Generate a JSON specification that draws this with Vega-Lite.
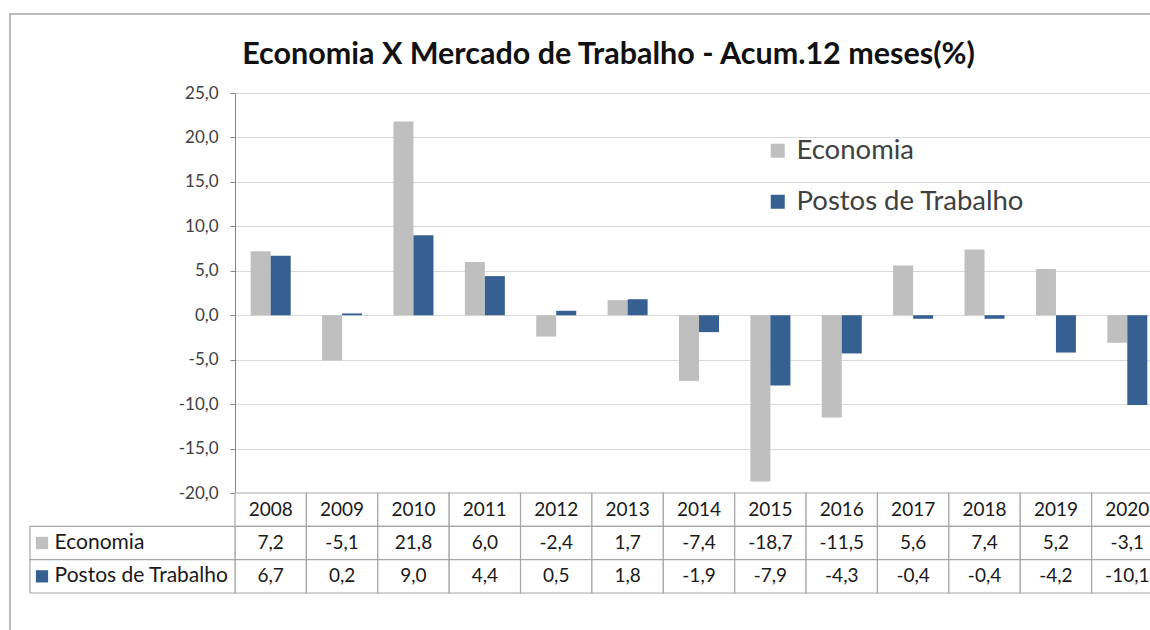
{
  "$schema": "https://vega.github.io/schema/vega-lite/v6.json",
  "usermeta": {"embedOptions": {"actions": false}},
  "width": 1145,
  "height": 621,
  "autosize": {"type": "none"},
  "padding": {"left": 10, "top": 14, "right": -5, "bottom": -5},
  "background": "white",
  "title": {
    "text": "Economia X Mercado de Trabalho - Acum.12 meses(%)",
    "font": "Lato", "fontSize": 30.5, "fontWeight": "bold", "color": "#111111",
    "anchor": "middle", "frame": "group", "dx": 26, "dy": 56, "offset": 0
  },
  "config": {
    "font": "Lato",
    "view": {"stroke": "#a6a6a6", "strokeWidth": 1.5},
    "locale": {"number": {"decimal": ",", "thousands": ".", "grouping": [3], "currency": ["R$", ""], "minus": "-"}}
  },
  "data": {
    "values": [
      {"ano": "2008", "serie": "Economia", "valor": 7.2},
      {"ano": "2008", "serie": "Postos de Trabalho", "valor": 6.7},
      {"ano": "2009", "serie": "Economia", "valor": -5.1},
      {"ano": "2009", "serie": "Postos de Trabalho", "valor": 0.2},
      {"ano": "2010", "serie": "Economia", "valor": 21.8},
      {"ano": "2010", "serie": "Postos de Trabalho", "valor": 9.0},
      {"ano": "2011", "serie": "Economia", "valor": 6.0},
      {"ano": "2011", "serie": "Postos de Trabalho", "valor": 4.4},
      {"ano": "2012", "serie": "Economia", "valor": -2.4},
      {"ano": "2012", "serie": "Postos de Trabalho", "valor": 0.5},
      {"ano": "2013", "serie": "Economia", "valor": 1.7},
      {"ano": "2013", "serie": "Postos de Trabalho", "valor": 1.8},
      {"ano": "2014", "serie": "Economia", "valor": -7.4},
      {"ano": "2014", "serie": "Postos de Trabalho", "valor": -1.9},
      {"ano": "2015", "serie": "Economia", "valor": -18.7},
      {"ano": "2015", "serie": "Postos de Trabalho", "valor": -7.9},
      {"ano": "2016", "serie": "Economia", "valor": -11.5},
      {"ano": "2016", "serie": "Postos de Trabalho", "valor": -4.3},
      {"ano": "2017", "serie": "Economia", "valor": 5.6},
      {"ano": "2017", "serie": "Postos de Trabalho", "valor": -0.4},
      {"ano": "2018", "serie": "Economia", "valor": 7.4},
      {"ano": "2018", "serie": "Postos de Trabalho", "valor": -0.4},
      {"ano": "2019", "serie": "Economia", "valor": 5.2},
      {"ano": "2019", "serie": "Postos de Trabalho", "valor": -4.2},
      {"ano": "2020", "serie": "Economia", "valor": -3.1},
      {"ano": "2020", "serie": "Postos de Trabalho", "valor": -10.1}
    ]
  },
  "resolve": {"scale": {"x": "independent", "y": "independent"}},
  "layer": [
    {
      "mark": {"type": "bar"},
      "encoding": {
        "x": {"field": "ano", "type": "ordinal", "scale": {"range": [225, 1153], "paddingInner": 0, "paddingOuter": 0}, "axis": null},
        "xOffset": {"field": "serie", "type": "nominal", "scale": {"paddingInner": 0, "paddingOuter": 0.7845}},
        "y": {
          "field": "valor", "type": "quantitative",
          "scale": {"domain": [-20, 25], "range": [479, 79], "nice": false, "zero": false},
          "axis": {
            "values": [-20, -15, -10, -5, 0, 5, 10, 15, 20, 25],
            "format": ".1f", "offset": -225, "title": null,
            "grid": true, "gridColor": "#d9d9d9", "gridWidth": 1,
            "domainColor": "#868686", "tickColor": "#868686", "tickSize": 5,
            "labelFont": "Lato", "labelFontSize": 17, "labelColor": "#404040", "labelPadding": 12,
            "labelFlush": false, "labelOverlap": false
          }
        },
        "color": {
          "field": "serie", "type": "nominal",
          "scale": {"domain": ["Economia", "Postos de Trabalho"], "range": ["#bfbfbf", "#366092"]},
          "legend": {
            "title": null, "orient": "none", "legendX": 754, "legendY": 123,
            "symbolType": "square", "symbolSize": 196, "symbolStrokeWidth": 0,
            "labelFont": "Lato", "labelFontSize": 27.5, "labelColor": "#404040", "labelLimit": 500,
            "rowPadding": 22, "labelOffset": 5
          }
        }
      }
    },
    {
      "transform": [{"aggregate": [{"op": "count", "as": "n"}], "groupby": ["ano"]}],
      "mark": {"type": "rect", "fill": "white", "stroke": "#a6a6a6", "strokeWidth": 1.2},
      "encoding": {
        "x": {"field": "ano", "type": "ordinal", "scale": {"range": [225, 1153], "paddingInner": 0, "paddingOuter": 0}, "axis": null},
        "y": {"datum": "ano", "type": "nominal", "scale": {"domain": ["ano", "Economia", "Postos de Trabalho"], "range": [479, 579], "paddingInner": 0, "paddingOuter": 0}, "axis": null}
      }
    },
    {
      "transform": [{"aggregate": [{"op": "count", "as": "n"}], "groupby": ["ano"]}],
      "mark": {"type": "text", "font": "Lato", "fontSize": 19, "color": "#1a1a1a", "baseline": "middle", "align": "center"},
      "encoding": {
        "x": {"field": "ano", "type": "ordinal", "scale": {"range": [225, 1153], "paddingInner": 0, "paddingOuter": 0}, "axis": null},
        "y": {"datum": "ano", "type": "nominal", "scale": {"domain": ["ano", "Economia", "Postos de Trabalho"], "range": [479, 579], "paddingInner": 0, "paddingOuter": 0}, "axis": null},
        "text": {"field": "ano"}
      }
    },
    {
      "mark": {"type": "rect", "fill": "white", "stroke": "#a6a6a6", "strokeWidth": 1.2},
      "encoding": {
        "x": {"field": "ano", "type": "ordinal", "scale": {"range": [225, 1153], "paddingInner": 0, "paddingOuter": 0}, "axis": null},
        "y": {"field": "serie", "type": "nominal", "scale": {"domain": ["ano", "Economia", "Postos de Trabalho"], "range": [479, 579], "paddingInner": 0, "paddingOuter": 0}, "axis": null}
      }
    },
    {
      "mark": {"type": "text", "font": "Lato", "fontSize": 19, "color": "#1a1a1a", "baseline": "middle", "align": "center"},
      "encoding": {
        "x": {"field": "ano", "type": "ordinal", "scale": {"range": [225, 1153], "paddingInner": 0, "paddingOuter": 0}, "axis": null},
        "y": {"field": "serie", "type": "nominal", "scale": {"domain": ["ano", "Economia", "Postos de Trabalho"], "range": [479, 579], "paddingInner": 0, "paddingOuter": 0}, "axis": null},
        "text": {"field": "valor", "type": "quantitative", "format": ".1f"}
      }
    },
    {
      "transform": [{"aggregate": [{"op": "count", "as": "n"}], "groupby": ["serie"]}],
      "mark": {"type": "rect", "fill": "white", "stroke": "#a6a6a6", "strokeWidth": 1.2},
      "encoding": {
        "x": {"datum": 0, "type": "quantitative", "scale": {"domain": [0, 1], "range": [20, 225], "nice": false, "zero": false}, "axis": null},
        "x2": {"datum": 1},
        "y": {"field": "serie", "type": "nominal", "scale": {"domain": ["ano", "Economia", "Postos de Trabalho"], "range": [479, 579], "paddingInner": 0, "paddingOuter": 0}, "axis": null}
      }
    },
    {
      "transform": [{"aggregate": [{"op": "count", "as": "n"}], "groupby": ["serie"]}],
      "mark": {"type": "text", "font": "Lato", "fontSize": 21, "color": "#1a1a1a", "baseline": "middle", "align": "left"},
      "encoding": {
        "x": {"datum": 0.12, "type": "quantitative", "scale": {"domain": [0, 1], "range": [20, 225], "nice": false, "zero": false}, "axis": null},
        "y": {"field": "serie", "type": "nominal", "scale": {"domain": ["ano", "Economia", "Postos de Trabalho"], "range": [479, 579], "paddingInner": 0, "paddingOuter": 0}, "axis": null},
        "text": {"field": "serie"}
      }
    },
    {
      "transform": [{"aggregate": [{"op": "count", "as": "n"}], "groupby": ["serie"]}],
      "mark": {"type": "point", "shape": "square", "filled": true, "size": 150, "opacity": 1, "strokeWidth": 0},
      "encoding": {
        "x": {"datum": 0.0585, "type": "quantitative", "scale": {"domain": [0, 1], "range": [20, 225], "nice": false, "zero": false}, "axis": null},
        "y": {"field": "serie", "type": "nominal", "scale": {"domain": ["ano", "Economia", "Postos de Trabalho"], "range": [479, 579], "paddingInner": 0, "paddingOuter": 0}, "axis": null},
        "color": {"field": "serie", "type": "nominal"}
      }
    }
  ]
}
